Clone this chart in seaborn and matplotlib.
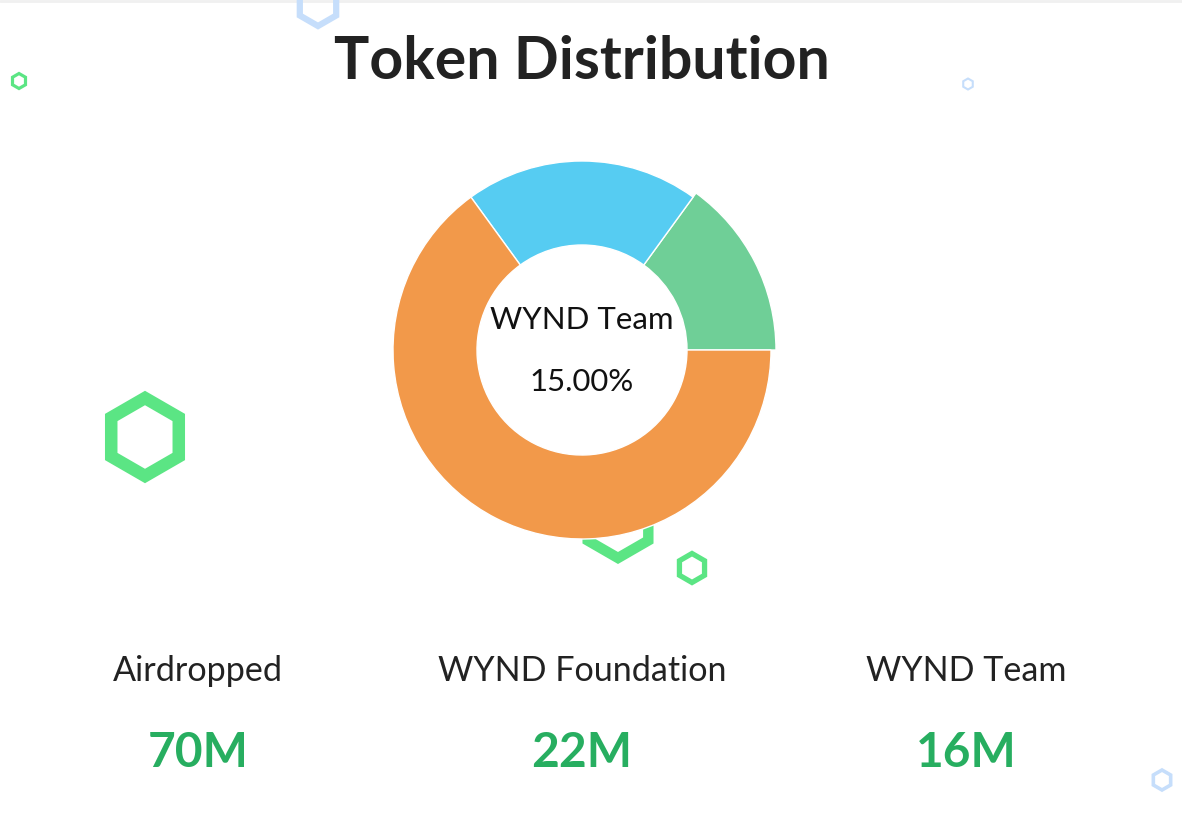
import numpy as np
import matplotlib
matplotlib.use("Agg")
import matplotlib.pyplot as plt
from matplotlib.patches import RegularPolygon
import seaborn as sns

# data
slice_labels = ["WYND Team", "WYND Foundation", "Airdropped"]
slice_shares = [15, 20, 65]
slice_colors = ["#6FCF97", "#56CCF2", "#F2994A"]
card_labels = ["Airdropped", "WYND Foundation", "WYND Team"]
card_values = ["70M", "22M", "16M"]
highlight = "WYND Team"

sns.set_theme(style="white")
plt.rcParams['font.family'] = ['Lato', 'DejaVu Sans']

W, H = 1182, 823
fig = plt.figure(figsize=(W / 100, H / 100), dpi=100)
ax = fig.add_axes([0, 0, 1, 1])
ax.set_xlim(0, W)
ax.set_ylim(0, H)
ax.axis("off")

def Y(py):
    return H - py

# decorative hexagons (x, y, radius, linewidth, colour)
hexes = [
    (145, 437, 39, 9, "#5BE584"),
    (618, 523, 35, 7.5, "#5BE584"),
    (692, 568, 14.5, 3.8, "#5BE584"),
    (19, 81, 7.5, 2.3, "#5BE584"),
    (318, 5, 21, 4.5, "#C6DEFB"),
    (968, 84, 5.5, 1.5, "#C6DEFB"),
    (1162, 780, 10, 2.6, "#C6DEFB"),
]
for hx, hy, r, lw, c in hexes:
    ax.add_patch(RegularPolygon((hx, Y(hy)), numVertices=6, radius=r,
                                facecolor="none", edgecolor=c, linewidth=lw,
                                joinstyle="miter", zorder=1))

# faint top border
ax.axhline(H - 0.5, color="#F0F0F0", lw=2, zorder=0)

# donut
cx, cy, r_out, r_in = 582, 350, 189, 105
wedges, _ = ax.pie(slice_shares, colors=slice_colors, startangle=0, counterclock=True,
                   center=(cx, Y(cy)), radius=r_out, frame=True,
                   wedgeprops=dict(width=r_out - r_in, edgecolor="white", linewidth=1))
for w in wedges:
    w.set_zorder(2)
hi = slice_labels.index(highlight)
wedges[hi].set_radius(r_out + 5)
wedges[hi].set_width(r_out + 5 - r_in)
ax.set_xlim(0, W)
ax.set_ylim(0, H)
ax.set_aspect("equal")
ax.axis("off")

pct = slice_shares[hi] / sum(slice_shares) * 100
ax.text(cx, Y(320), highlight, ha="center", va="center", fontsize=22.4, color="#111111", zorder=3)
ax.text(cx, Y(382), f"{pct:.2f}%", ha="center", va="center", fontsize=22.4, color="#111111", zorder=3)

# title
ax.text(cx, Y(62), "Token Distribution", ha="center", va="center", fontsize=42.5,
        fontweight="bold", color="#222222")

# cards
card_x = [198, 582, 966]
for x, lab, val in zip(card_x, card_labels, card_values):
    ax.text(x, Y(671), lab, ha="center", va="center", fontsize=24.6, color="#222222")
    ax.text(x, Y(753), val, ha="center", va="center", fontsize=34.5, fontweight="bold",
            color="#27AE60")

fig.savefig("out.png", dpi=100, facecolor="white")
